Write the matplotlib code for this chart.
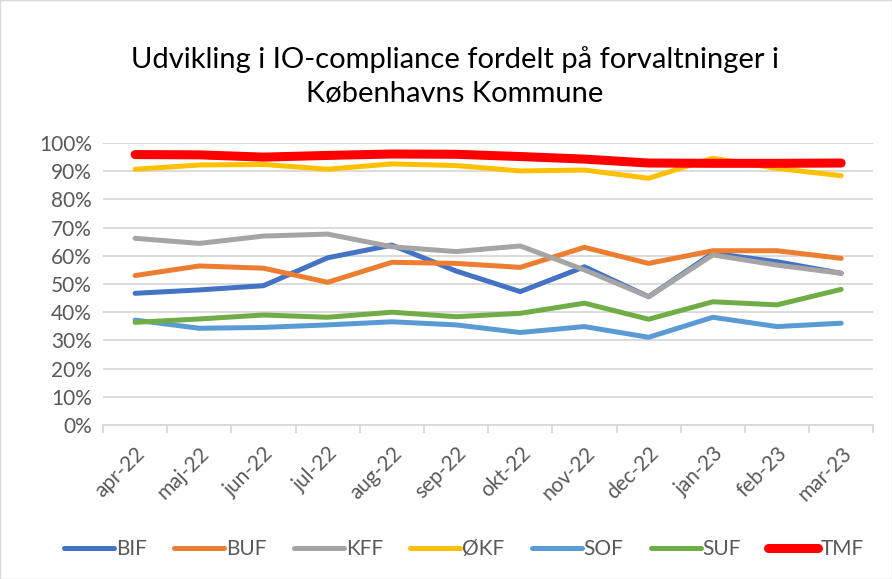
import matplotlib.pyplot as plt
import matplotlib.patches as mpatches
from matplotlib.ticker import PercentFormatter, FixedLocator
import numpy as np

months = ['apr-22', 'maj-22', 'jun-22', 'jul-22', 'aug-22', 'sep-22',
          'okt-22', 'nov-22', 'dec-22', 'jan-23', 'feb-23', 'mar-23']

bif = [46.7, 47.9, 49.4, 59.3, 63.8, 54.6, 47.3, 56.1, 45.5, 60.9, 57.9, 53.8]
buf = [53.0, 56.4, 55.6, 50.6, 57.7, 57.3, 55.9, 63.0, 57.3, 61.8, 61.8, 59.1]
kff = [66.2, 64.4, 67.0, 67.7, 63.2, 61.5, 63.5, 55.0, 45.5, 60.3, 56.7, 53.8]
okf = [90.7, 92.2, 92.4, 90.7, 92.6, 92.0, 90.1, 90.4, 87.5, 94.6, 91.0, 88.4]
sof = [37.2, 34.3, 34.6, 35.5, 36.6, 35.5, 32.8, 34.9, 31.1, 38.2, 34.9, 36.1]
suf = [36.4, 37.6, 39.0, 38.2, 40.0, 38.4, 39.6, 43.2, 37.5, 43.7, 42.6, 48.1]
tmf = [95.9, 95.8, 95.0, 95.6, 96.1, 96.0, 95.2, 94.3, 92.9, 92.8, 92.8, 92.9]

series = [
    ('BIF', bif, '#4472c4', 3.6),
    ('BUF', buf, '#ed7d31', 3.6),
    ('KFF', kff, '#a5a5a5', 3.6),
    ('ØKF', okf, '#ffc000', 3.6),
    ('SOF', sof, '#5b9bd5', 3.6),
    ('SUF', suf, '#70ad47', 3.6),
    ('TMF', tmf, '#ff0000', 6.5),
]

plt.rcParams['font.family'] = ['Lato', 'DejaVu Sans']

fig = plt.figure(figsize=(8.92, 5.79), dpi=100)
ax = fig.add_axes([0.1155, 0.266, 0.8635, 0.487])

x = np.arange(len(months))
for name, vals, col, lw in series:
    ax.plot(x, vals, color=col, lw=lw, solid_capstyle='round',
            solid_joinstyle='round', label=name)

ax.set_xlim(-0.5, len(months) - 0.5)
ax.set_ylim(0, 100)
ax.set_yticks(np.arange(0, 101, 10))
ax.yaxis.set_major_formatter(PercentFormatter(decimals=0))
ax.grid(axis='y', color='#d9d9d9', lw=1.3)
ax.set_axisbelow(True)

ax.set_xticks(x)
ax.set_xticklabels(months, rotation=45, ha='right', rotation_mode='anchor')
ax.xaxis.set_minor_locator(FixedLocator(np.arange(-0.5, len(months), 1)))
ax.tick_params(axis='x', which='major', length=0, pad=13)
ax.tick_params(axis='x', which='minor', length=6, color='#d9d9d9', width=1.3)
ax.tick_params(axis='y', length=0, pad=8)
ax.tick_params(labelsize=15, labelcolor='#595959')

for s in ['top', 'right', 'left']:
    ax.spines[s].set_visible(False)
ax.spines['bottom'].set_color('#d9d9d9')
ax.spines['bottom'].set_linewidth(1.3)

fig.text(0.51, 0.868, 'Udvikling i IO-compliance fordelt på forvaltninger i\nKøbenhavns Kommune',
         ha='center', va='center', fontsize=21, color='#000000', linespacing=1.4)

handles = [plt.Line2D([], [], color=c, lw=lw, solid_capstyle='round') for _, _, c, lw in series]
fig.legend(handles, [s[0] for s in series], loc='center', bbox_to_anchor=(0.52, 0.052),
           ncol=7, frameon=False, fontsize=15, handlelength=2.4, handletextpad=0.1,
           columnspacing=1.3, labelcolor='#595959')

fig.patches.append(mpatches.Rectangle((0, 0), 1, 1, transform=fig.transFigure,
                                      fill=False, edgecolor='#d9d9d9', lw=1))

fig.savefig('out.png', dpi=100)
